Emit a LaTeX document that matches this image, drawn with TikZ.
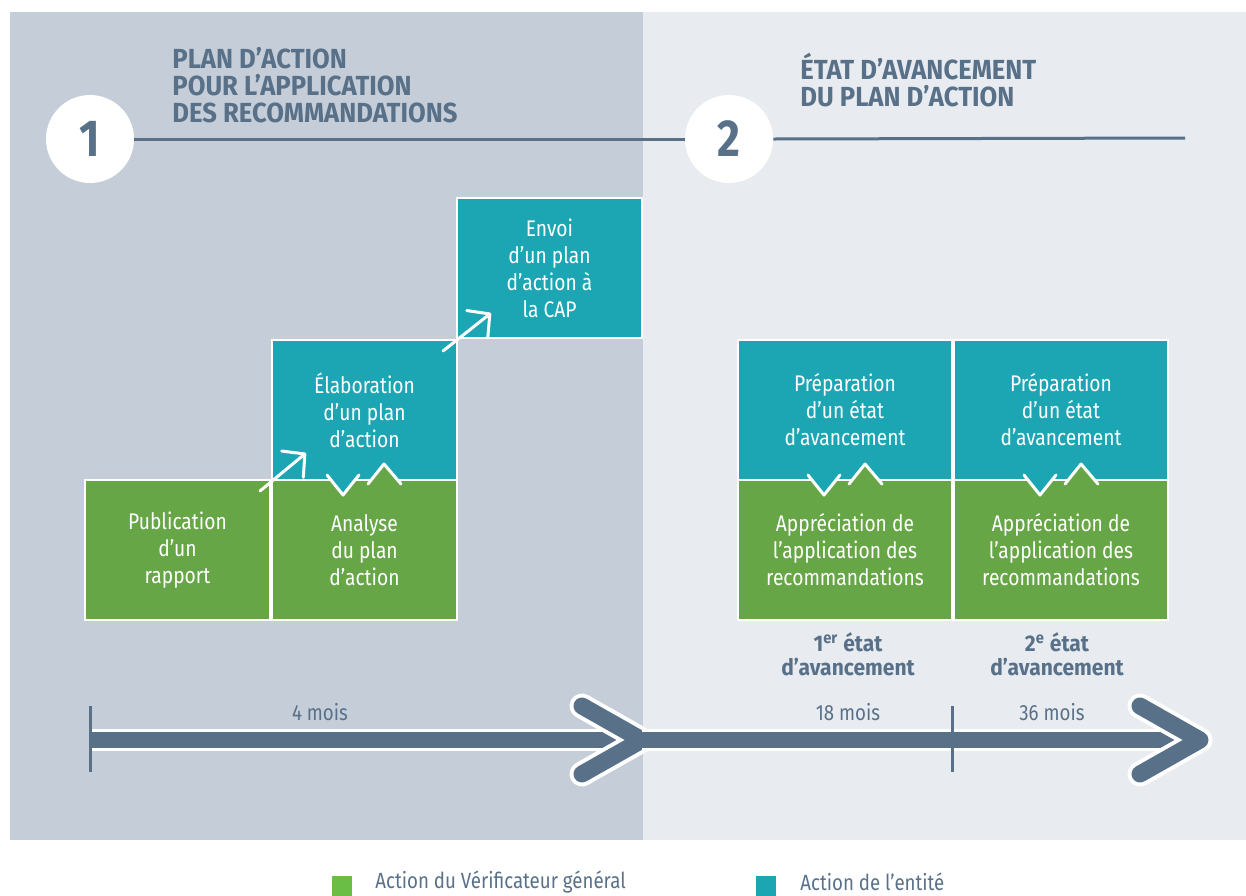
\documentclass[tikz,border=0pt]{standalone}
\usepackage{fontspec}
\setmainfont{Fira Sans}[FakeStretch=0.85]
\newfontfamily\titlefont{Fira Sans}[FakeStretch=0.93]
\usepackage{tikz}
\usetikzlibrary{arrows.meta}

\definecolor{slate}{HTML}{587189}
\definecolor{leftbg}{HTML}{C5CDD8}
\definecolor{rightbg}{HTML}{E8EBEF}
\definecolor{vgreen}{HTML}{66A646}
\definecolor{eteal}{HTML}{1CA6B4}
\definecolor{legendgreen}{HTML}{6ABD45}

\tikzset{
	box/.style={draw=white, line width=1pt, text=white, align=center, minimum height=70pt, inner sep=0pt, font=\fontsize{11.3}{13.5}\selectfont},
	vgbox/.style={box, fill=vgreen},
	entbox/.style={box, fill=eteal},
	numcircle/.style={circle, fill=white, minimum size=44pt, inner sep=0pt, text=slate, font=\fontsize{26}{26}\selectfont\bfseries},
	phasetitle/.style={anchor=base west, align=left, inner sep=0pt, text=slate, font=\titlefont\fontsize{13.8}{13.5}\selectfont\bfseries},
	moislabel/.style={text=slate, font=\fontsize{11}{13}\selectfont},
	etatlabel/.style={text=slate, align=center, font=\titlefont\fontsize{11.3}{12}\selectfont\bfseries},
	steparrow/.style={white, line width=1.5pt, line cap=round, -{Straight Barb[length=8pt,width=17pt,round]}},
	timebar/.style={line width=#1, line cap=butt},
	chevron/.style={line width=#1, line cap=round, line join=round}
}

\newcommand{\zigzag}[2]{
	\fill[eteal] ({#1-34},{#2-1.5}) -- ({#1-21},{#2+15}) -- ({#1-8},{#2-1.5}) -- cycle;
	\fill[vgreen] ({#1+6},{#2+1.5}) -- ({#1+20},{#2-16}) -- ({#1+35},{#2+1.5}) -- cycle;
	\draw[white, line width=1.5pt, line cap=round, line join=round] ({#1-37},{#2-5}) -- ({#1-21},{#2+15}) -- ({#1-5},{#2-5});
	\draw[white, line width=1.5pt, line cap=round, line join=round] ({#1+4},{#2+4}) -- ({#1+20},{#2-16}) -- ({#1+37},{#2+4});
}

\begin{document}
\begin{tikzpicture}[x=0.5pt, y=-0.5pt]
	\useasboundingbox (0,0) rectangle (1246,895);
	\fill[leftbg] (10,12) rectangle (643,840);
	\fill[rightbg] (643,12) rectangle (1246,840);

	\coordinate (lineend) at (1185,138);
	\node[numcircle] (c1) at (90,139) {1};
	\node[numcircle] (c2) at (729,139) {2};
	\draw[slate, line width=1.5pt] (c1.east) -- (c2.west);
	\draw[slate, line width=1.5pt] (c2.east) -- (lineend);
	\node[phasetitle] (t1) at (172,122) {PLAN D’ACTION\\POUR L’APPLICATION\\DES RECOMMANDATIONS};
	\node[phasetitle] (t2) at (800,106) {ÉTAT D’AVANCEMENT\\DU PLAN D’ACTION};

	\node[vgbox, minimum width=92.5pt] (pub) at (177.5,550) {Publication\\d’un\\rapport};
	\node[vgbox, minimum width=92.5pt] (ana) at (364.5,550) {Analyse\\du plan\\d’action};
	\node[entbox, minimum width=92.5pt] (ela) at (364.5,410) {Élaboration\\d’un plan\\d’action};
	\node[entbox, minimum width=92.5pt] (env) at (549.5,268) {Envoi\\d’un plan\\d’action à\\la CAP};
	\node[entbox, minimum width=107pt] (prep1) at (845,410) {Préparation\\d’un état\\d’avancement};
	\node[entbox, minimum width=107pt] (prep2) at (1061,410) {Préparation\\d’un état\\d’avancement};
	\node[vgbox, minimum width=107pt] (app1) at (845,550) {Appréciation de\\l’application des\\recommandations};
	\node[vgbox, minimum width=107pt] (app2) at (1061,550) {Appréciation de\\l’application des\\recommandations};

	\zigzag{364}{480}
	\zigzag{845}{480}
	\zigzag{1061}{480}

	\draw[steparrow] ([shift={(-11,12)}]pub.north east) -- ([shift={(35,-28)}]ela.south west);
	\draw[steparrow] ([shift={(-15,12)}]ela.north east) -- ([shift={(35,-26)}]env.south west);

	\node[etatlabel] (etat1) at (848,654) {1\textsuperscript{er} état\\d’avancement};
	\node[etatlabel] (etat2) at (1057,654) {2\textsuperscript{e} état\\d’avancement};

	\coordinate (t0) at (90,740);
	\coordinate (tmid) at (642,740);
	\coordinate (tend) at (1200,740);
	\draw[timebar=11pt, white] (t0) -- (tmid);
	\draw[timebar=8pt, slate] (t0) -- (tmid);
	\draw[chevron=12.5pt, white] (582,706) -- (tmid) -- (582,774);
	\draw[chevron=8.5pt, slate] (582,706) -- (tmid) -- (582,774);
	\draw[timebar=11pt, white] (tmid) -- (tend);
	\draw[timebar=8pt, slate] (tmid) -- (tend);
	\draw[chevron=12.5pt, white] (1140,706) -- (tend) -- (1140,774);
	\draw[chevron=8.5pt, slate] (1140,706) -- (tend) -- (1140,774);
	\draw[slate, line width=1.5pt] (90,706) -- (90,772);
	\draw[slate, line width=1.5pt] (952,706) -- (952,772);

	\node[moislabel] (m4) at (320,712) {4 mois};
	\node[moislabel] (m18) at (848,712) {18 mois};
	\node[moislabel] (m36) at (1052,712) {36 mois};

	\node[fill=legendgreen, minimum size=10pt, inner sep=0pt] (sqvg) at (342,886) {};
	\node[moislabel, anchor=west, inner sep=0pt] (legvg) at (375,882) {Action du Vérificateur général};
	\node[fill=eteal, minimum size=10pt, inner sep=0pt] (sqent) at (766,886) {};
	\node[moislabel, anchor=west, inner sep=0pt] (legent) at (800,882) {Action de l’entité};
\end{tikzpicture}
\end{document}
